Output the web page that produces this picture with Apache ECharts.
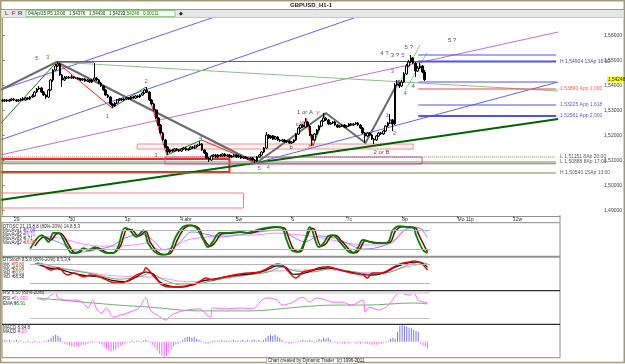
<!DOCTYPE html>
<html><head><meta charset="utf-8">
<script src="https://cdn.jsdelivr.net/npm/echarts@6/dist/echarts.min.js"></script>
<style>html,body{margin:0;padding:0;background:#fff}#c{width:625px;height:364px}</style>
</head><body><div id="c"></div><script>
// ---------------- DATA ----------------
const titleText = 'GBPUSD_H1-1';
const toolbarText = '04/Ap/15 P5 13:00   1,54376   1,54430   1,54232';
const toolbarText2 = '1,54248   0,00111';
const lastPriceLabel = '1,54248';
const priceTicks = [1.49, 1.50, 1.51, 1.52, 1.53, 1.54, 1.55, 1.56];
const dateTicks = [5, 29, 53, 77, 101, 125, 149, 173, 197, 221];
const dateLabels = ['29', '30', '1p', '4 abr', '5w', '6', '7c', '8p', 'Mo 11p', '12w'];

const candleOpen = [
1.5343,1.5339,1.5343,1.5339,1.5343,1.5347,1.5343,1.5339,1.5343,1.5347,
1.5343,1.5351,1.5347,1.5355,1.5359,1.5375,1.5387,1.5391,1.5375,1.5363,
1.5355,1.5383,1.5423,1.5463,1.5479,1.5487,1.5443,1.5423,1.5431,1.5435,
1.5431,1.5435,1.5431,1.5431,1.5427,1.5423,1.5427,1.5419,1.5423,1.5415,
1.5423,1.5431,1.5423,1.5411,1.5399,1.5383,1.5363,1.5355,1.5327,1.5319,
1.5331,1.5343,1.5347,1.5343,1.5347,1.5351,1.5347,1.5355,1.5351,1.5359,
1.5355,1.5363,1.5371,1.5383,1.5375,1.5343,1.5327,1.5303,1.5271,1.5243,
1.5211,1.5183,1.5155,1.5135,1.5143,1.5139,1.5147,1.5143,1.5139,1.5147,
1.5151,1.5143,1.5147,1.5155,1.5151,1.5159,1.5163,1.5167,1.5143,1.5131,
1.5111,1.5103,1.5119,1.5123,1.5115,1.5123,1.5119,1.5127,1.5119,1.5123,
1.5115,1.5119,1.5123,1.5115,1.5119,1.5111,1.5115,1.5111,1.5107,1.5111,
1.5103,1.5099,1.5115,1.5123,1.5135,1.5151,1.5203,1.5191,1.5199,1.5187,
1.5195,1.5183,1.5179,1.5183,1.5175,1.5179,1.5171,1.5175,1.5183,1.5207,
1.5231,1.5243,1.5235,1.5255,1.5239,1.5203,1.5183,1.5207,1.5223,1.5239,
1.5259,1.5271,1.5263,1.5247,1.5251,1.5255,1.5243,1.5235,1.5239,1.5243,
1.5235,1.5239,1.5247,1.5243,1.5247,1.5251,1.5243,1.5231,1.5211,1.5199,
1.5211,1.5203,1.5187,1.5183,1.5199,1.5211,1.5207,1.5219,1.5239,1.5251,
1.5263,1.5247,1.5403,1.5407,1.5399,1.5415,1.5447,1.5479,1.5495,1.5511,
1.5491,1.5459,1.5471,1.5479,1.5455];
const candleClose = [
1.5339,1.5343,1.5339,1.5343,1.5347,1.5343,1.5339,1.5343,1.5347,1.5343,
1.5351,1.5347,1.5355,1.5359,1.5375,1.5387,1.5391,1.5375,1.5363,1.5355,
1.5383,1.5423,1.5463,1.5479,1.5487,1.5443,1.5423,1.5431,1.5435,1.5431,
1.5435,1.5431,1.5431,1.5427,1.5423,1.5427,1.5419,1.5423,1.5415,1.5423,
1.5431,1.5423,1.5411,1.5399,1.5383,1.5363,1.5355,1.5327,1.5319,1.5331,
1.5343,1.5347,1.5343,1.5347,1.5351,1.5347,1.5355,1.5351,1.5359,1.5355,
1.5363,1.5371,1.5383,1.5375,1.5343,1.5327,1.5303,1.5271,1.5243,1.5211,
1.5183,1.5155,1.5135,1.5143,1.5139,1.5147,1.5143,1.5139,1.5147,1.5151,
1.5143,1.5147,1.5155,1.5151,1.5159,1.5163,1.5167,1.5143,1.5131,1.5111,
1.5103,1.5119,1.5123,1.5115,1.5123,1.5119,1.5127,1.5119,1.5123,1.5115,
1.5119,1.5123,1.5115,1.5119,1.5111,1.5115,1.5111,1.5107,1.5111,1.5103,
1.5099,1.5115,1.5123,1.5135,1.5151,1.5203,1.5191,1.5199,1.5187,1.5195,
1.5183,1.5179,1.5183,1.5175,1.5179,1.5171,1.5175,1.5183,1.5207,1.5231,
1.5243,1.5235,1.5255,1.5239,1.5203,1.5183,1.5207,1.5223,1.5239,1.5259,
1.5271,1.5263,1.5247,1.5251,1.5255,1.5243,1.5235,1.5239,1.5243,1.5235,
1.5239,1.5247,1.5243,1.5247,1.5251,1.5243,1.5231,1.5211,1.5199,1.5211,
1.5203,1.5187,1.5183,1.5199,1.5211,1.5207,1.5219,1.5239,1.5251,1.5263,
1.5247,1.5403,1.5407,1.5399,1.5415,1.5447,1.5479,1.5495,1.5511,1.5491,
1.5459,1.5471,1.5479,1.5455,1.5425];
const candleLow = [
1.5335,1.5335,1.5335,1.5335,1.5339,1.5339,1.5335,1.5335,1.5339,1.5339,
1.5339,1.5343,1.5343,1.5351,1.5355,1.5371,1.5383,1.5371,1.5359,1.5347,
1.5351,1.5379,1.5415,1.5459,1.5475,1.5439,1.5395,1.5419,1.5427,1.5427,
1.5427,1.5427,1.5427,1.5423,1.5419,1.5419,1.5415,1.5415,1.5411,1.5411,
1.5419,1.5419,1.5407,1.5395,1.5379,1.5359,1.5351,1.5323,1.5311,1.5315,
1.5327,1.5339,1.5339,1.5339,1.5343,1.5343,1.5343,1.5347,1.5347,1.5351,
1.5351,1.5359,1.5367,1.5371,1.5339,1.5323,1.5299,1.5267,1.5239,1.5207,
1.5179,1.5151,1.5123,1.5131,1.5135,1.5135,1.5139,1.5135,1.5135,1.5143,
1.5139,1.5139,1.5143,1.5147,1.5147,1.5155,1.5159,1.5139,1.5127,1.5107,
1.5095,1.5099,1.5115,1.5111,1.5111,1.5115,1.5115,1.5115,1.5115,1.5111,
1.5111,1.5115,1.5111,1.5111,1.5107,1.5107,1.5107,1.5103,1.5103,1.5099,
1.5091,1.5095,1.5111,1.5119,1.5131,1.5147,1.5187,1.5187,1.5183,1.5183,
1.5179,1.5175,1.5175,1.5171,1.5171,1.5167,1.5167,1.5171,1.5179,1.5203,
1.5227,1.5231,1.5231,1.5235,1.5199,1.5159,1.5179,1.5203,1.5219,1.5235,
1.5255,1.5259,1.5243,1.5243,1.5247,1.5239,1.5231,1.5231,1.5235,1.5231,
1.5231,1.5235,1.5239,1.5239,1.5243,1.5239,1.5227,1.5207,1.5171,1.5195,
1.5199,1.5183,1.5167,1.5179,1.5195,1.5203,1.5203,1.5215,1.5235,1.5247,
1.5219,1.5243,1.5399,1.5391,1.5395,1.5411,1.5443,1.5475,1.5491,1.5487,
1.5435,1.5455,1.5467,1.5451,1.5419];
const candleHigh = [
1.5347,1.5347,1.5347,1.5347,1.5351,1.5351,1.5347,1.5347,1.5351,1.5355,
1.5355,1.5355,1.5359,1.5367,1.5379,1.5391,1.5399,1.5395,1.5379,1.5367,
1.5387,1.5427,1.5467,1.5487,1.5495,1.5491,1.5447,1.5439,1.5439,1.5439,
1.5443,1.5439,1.5435,1.5435,1.5431,1.5431,1.5431,1.5427,1.5427,1.5427,
1.5491,1.5435,1.5427,1.5415,1.5403,1.5387,1.5367,1.5359,1.5331,1.5335,
1.5347,1.5351,1.5351,1.5351,1.5355,1.5355,1.5359,1.5359,1.5363,1.5363,
1.5367,1.5375,1.5387,1.5395,1.5379,1.5347,1.5331,1.5307,1.5275,1.5247,
1.5215,1.5187,1.5159,1.5147,1.5147,1.5151,1.5151,1.5147,1.5151,1.5155,
1.5155,1.5151,1.5159,1.5159,1.5163,1.5167,1.5179,1.5171,1.5147,1.5135,
1.5115,1.5123,1.5127,1.5127,1.5127,1.5127,1.5131,1.5131,1.5127,1.5127,
1.5123,1.5127,1.5127,1.5123,1.5123,1.5119,1.5119,1.5115,1.5115,1.5115,
1.5107,1.5119,1.5127,1.5139,1.5155,1.5215,1.5207,1.5203,1.5203,1.5199,
1.5199,1.5187,1.5187,1.5187,1.5183,1.5183,1.5179,1.5187,1.5211,1.5235,
1.5247,1.5247,1.5271,1.5259,1.5243,1.5207,1.5211,1.5227,1.5243,1.5263,
1.5291,1.5275,1.5267,1.5255,1.5259,1.5259,1.5247,1.5243,1.5247,1.5247,
1.5243,1.5251,1.5251,1.5251,1.5255,1.5255,1.5247,1.5235,1.5215,1.5215,
1.5215,1.5207,1.5191,1.5203,1.5215,1.5215,1.5223,1.5243,1.5255,1.5287,
1.5267,1.5411,1.5423,1.5415,1.5423,1.5455,1.5487,1.5503,1.5523,1.5515,
1.5495,1.5479,1.5491,1.5483,1.5463];

// Drawing tools (bar index, price)
const lineBlueA = [[-1, 1.5383], [95, 1.5683]];
const lineBlueB = [[-1, 1.5183], [155.6, 1.5679]];
const lineBlueC = [[107.1, 1.5083], [242.2, 1.5415]];
const linePurple = [[-1, 1.5123], [242.2, 1.5615]];
const lineOliveGreen = [[23.6, 1.5495], [242.2, 1.5379]];
const lineGreenLeft = [[-1, 1.5247], [23.6, 1.5495]];
const lineDarkGreen = [[-1, 1.4943], [242.2, 1.5267]];
const lineBlueHigh = [[23.6, 1.5497], [241.3, 1.5497]];
const lineGrayTop = [[23.6, 1.5493], [40, 1.5493]];
const waveZigzag = [[-1, 1.5383], [23.6, 1.5495], [110.6, 1.5091], [140.9, 1.5291], [158.2, 1.5171], [172.9, 1.5423]];
const waveRed = [[[23.6, 1.5495], [47.8, 1.5311]], [[62.6, 1.5395], [71.6, 1.5123]], [[86.8, 1.5183], [110.6, 1.5091]], [[132.3, 1.5271], [135.3, 1.5159]]];
const waveGreen = [[[47.8, 1.5311], [62.6, 1.5395]], [[71.6, 1.5123], [86.8, 1.5183]], [[135.3, 1.5159], [140.9, 1.5291]]];
const channelLightGreen = [[[170.8, 1.5371], [182, 1.5563]], [[175.5, 1.5383], [185, 1.5531]]];
const projStart = 181.2, projEnd = 241.3, fullStart = -1;
const projBlueThin = [1.5523, 1.5415];
const projLevels = [1.5497, 1.5387, 1.5323, 1.5279];
const projLabels = ['H 1,54904 13Ap 16:00', '1,53890 App 1,000', '1,53225 App 1,618', '1,52561 App 2,000'];
const oliveLevels = [1.5115, 1.5095, 1.5088, 1.5051];
const oliveLabels = ['L 1,51151 8Ap 20:00', 'L 1,50888 8Ap 17:00', '', 'H 1,50540 15Ap 13:00'];
const boxPink = [[58.7, 1.5167], [179, 1.5147]];
const boxRed = [[-1, 1.5107], [98.9, 1.5055]];
const boxMagenta = [[70.8, 1.5115], [182.9, 1.5087]];
const boxLightRed = [[-1, 1.4971], [105, 1.4911]];
const labelsBlue = [[15, 1.5511, '5'], [45.7, 1.5279, '1'], [62.6, 1.5419, '2'], [66.9, 1.5123, '3'], [86.4, 1.5191, '4'], [111.9, 1.5071, '5'], [167.7, 1.5283, '1'], [170.8, 1.5211, '2'], [170, 1.5459, '3'], [175.5, 1.5371, '4'], [174.5, 1.5523, '5']];
const labelsGreen = [[19.7, 1.5515, '3'], [115.8, 1.5075, '4']];
const labelsBlack = [[131.8, 1.5295, '1 or A'], [165.2, 1.5135, '2 or B'], [125.8, 1.5155, 'b'], [128.5, 1.5247, 'c'], [166.5, 1.5531, '4 ?'], [171, 1.5523, '3 ?'], [177, 1.5555, '5 ?'], [196, 1.5583, '5 ?'], [179, 1.5399, '4']];
const labelsRed = [[137.4, 1.5289, 'Y'], [131, 1.5249, 'W'], [134, 1.5159, 'X']];

// Indicators: [bar index, value]
const stoch1Fast = [[12,22],[17,66],[20,44],[22,73],[24,73],[28,27],[30,8],[32,8],[35,24],[37,18],[40,27],[42,18],[45,8],[48,8],[50,27],[53,89],[55,82],[58,60],[61,82],[63,40],[66,11],[69,2],[72,8],[75,60],[78,92],[81,98],[84,89],[87,50],[89,27],[91,44],[94,73],[98,73],[103,76],[106,73],[110,82],[114,89],[118,92],[121,89],[123,50],[125,18],[128,11],[131,50],[133,92],[134,82],[137,27],[139,40],[141,63],[143,66],[146,44],[150,11],[152,8],[154,27],[156,50],[159,44],[162,40],[164,40],[167,44],[169,82],[172,95],[175,92],[178,89],[179,66],[182,18],[184,8]];
const stoch1Slow = [[14,30],[18,60],[21,50],[23,68],[25,72],[29,30],[31,10],[33,9],[35,20],[38,18],[41,25],[43,18],[46,9],[48,9],[51,30],[54,85],[56,83],[59,62],[62,78],[64,42],[67,12],[70,3],[73,9],[76,55],[79,90],[82,97],[85,88],[87,55],[90,30],[92,42],[95,70],[99,72],[103,75],[107,72],[111,80],[115,88],[119,91],[122,88],[124,55],[126,20],[129,12],[131,45],[134,88],[135,84],[138,30],[140,38],[142,60],[144,65],[147,45],[151,13],[153,9],[155,25],[157,48],[159,44],[162,41],[165,40],[168,44],[170,78],[173,93],[176,93],[179,88],[180,70],[183,25],[184,12]];
const stoch1Avg1 = [[17,66],[25,40],[34,11],[40,18],[47,30],[53,56],[60,69],[65,50],[70,18],[76,37],[82,76],[88,69],[94,60],[102,66],[111,76],[120,82],[125,63],[131,44],[137,63],[144,56],[150,37],[156,21],[163,27],[170,50],[175,85],[180,89],[184,56]];
const stoch1Avg2 = [[16,63],[25,56],[37,34],[47,30],[57,34],[63,40],[68,18],[74,27],[80,50],[88,59],[97,66],[108,66],[118,72],[129,66],[137,59],[147,43],[157,34],[166,34],[175,88],[179,91],[184,75]];
const stoch2K = [[14,80],[17,77],[21,61],[24,68],[28,46],[31,52],[35,40],[38,46],[42,40],[47,24],[50,21],[54,27],[58,46],[61,55],[62,68],[65,46],[67,30],[69,15],[72,8],[77,8],[81,15],[85,24],[88,36],[91,30],[94,36],[100,46],[106,52],[111,55],[114,64],[119,80],[121,77],[124,55],[127,36],[130,55],[134,61],[137,68],[141,71],[146,61],[151,52],[156,46],[158,36],[160,52],[164,52],[167,61],[172,80],[176,86],[178,89],[181,83],[184,61]];
const stoch2D = [[15,80],[20,68],[25,63],[30,52],[36,44],[42,40],[48,28],[53,25],[58,40],[62,55],[65,50],[68,25],[72,12],[77,8],[82,14],[87,28],[92,34],[100,44],[108,50],[114,60],[119,74],[122,72],[126,48],[130,50],[136,63],[141,68],[148,58],[155,48],[160,45],[165,52],[170,70],[176,84],[180,86],[184,70]];
const stoch2Slow = [[15,85],[22,72],[30,60],[40,48],[50,33],[58,38],[64,50],[70,30],[78,14],[86,20],[95,35],[105,45],[115,55],[121,70],[127,58],[134,55],[142,65],[150,58],[160,48],[168,55],[175,75],[181,85],[184,80]];
const stoch2Avg = [[15,75],[30,62],[50,42],[65,40],[80,25],[100,38],[120,60],[140,62],[160,52],[180,78],[184,80]];
const rsiLine = [[15,68],[18,63],[21,75],[23,80],[24,68],[28,63],[32,63],[35,56],[37,44],[39,63],[41,39],[43,32],[45,44],[48,22],[51,27],[55,34],[59,44],[62,68],[64,39],[67,27],[71,15],[72,22],[75,32],[80,39],[85,42],[90,22],[91,44],[97,42],[103,44],[108,42],[114,68],[119,63],[121,51],[125,56],[130,70],[133,58],[136,68],[140,63],[143,58],[147,58],[151,51],[156,63],[157,34],[159,46],[163,39],[167,51],[172,80],[176,75],[178,80],[180,63],[184,56]];
const rsiEma = [[15,68],[50,51],[64,46],[85,37],[107,37],[128,46],[143,51],[157,51],[178,56],[184,54]];
const macdHistPips = [
1,2,1,2,1,1,2,1,1,
-1,-1,1,-1,-1,1,-1,-1,-1,1,1,
2,4,6,7,6,4,
-1,-2,-3,-4,-5,-5,-4,-5,-4,-3,-3,-2,-1,
1,-1,-1,-2,
-3,-5,-7,-9,-10,-9,-8,-6,-4,-3,
-2,-1,-1,1,-1,1,1,-1,1,2,1,
-1,-3,-6,-9,-12,-14,-15,-14,-11,-8,
-5,-3,-2,-1,
2,4,5,5,4,5,3,2,1,
-1,-2,-2,-1,1,1,1,1,2,1,1,1,1,2,1,1,1,2,1,2,1,2,2,1,2,1,2,
4,6,7,6,7,5,4,
2,-1,-1,-2,-2,-1,-1,1,
1,2,1,1,2,1,
-1,1,3,2,
4,3,4,2,
-1,-1,-2,-1,-2,-2,-1,-2,-1,-1,-2,-1,-2,-1,-2,
-2,-3,-3,-2,-3,-2,-2,-1,-1,
1,3,4,3,
10,16,17,16,15,14,14,12,11,10,
-2,-4,-5,-7];

// ---------------- CHART ----------------
const FONT = '"Liberation Sans", "DejaVu Sans", sans-serif';
const chart = echarts.init(document.getElementById('c'));
const candles = candleOpen.map((o, i) => [i, o, candleClose[i], candleLow[i], candleHigh[i]]);

function ln(data, color, width, extra) {
  return Object.assign({type: 'line', xAxisIndex: 0, yAxisIndex: 0, data: data, symbol: 'none', silent: true,
    lineStyle: {color: color, width: width}, z: 3, clip: true}, extra || {});
}
function ind(data, gi, color, width) {
  return {type: 'line', xAxisIndex: gi, yAxisIndex: gi, data: data, symbol: 'none', silent: true, smooth: 0.35,
    lineStyle: {color: color, width: width}, z: 4};
}
function refLine(gi, vals, color, width) {
  return {type: 'line', xAxisIndex: gi, yAxisIndex: gi, data: [], silent: true,
    markLine: {silent: true, symbol: 'none', label: {show: false}, lineStyle: {color: color, width: width, type: 'solid'},
      data: vals.map(v => [{coord: [12, v]}, {coord: [185, v]}])}};
}
function txt(data, color, pos) {
  return {type: 'scatter', xAxisIndex: 0, yAxisIndex: 0, symbolSize: 0, silent: true, z: 6,
    data: data.map(d => ({value: [d[0], d[1]], name: d[2]})),
    label: {show: true, position: pos || 'inside', formatter: p => p.name, color: color, fontSize: 6, fontFamily: FONT}};
}
function box(b, border, fill, width) {
  return {type: 'line', xAxisIndex: 0, yAxisIndex: 0, data: [], silent: true,
    markArea: {silent: true, itemStyle: {color: fill, borderColor: border, borderWidth: width},
      data: [[{coord: b[0]}, {coord: b[1]}]]}};
}

const series = [];
series.push(box(boxLightRed, '#f08080', 'rgba(255,255,255,0)', 1));
series.push(box(boxRed, '#ff2020', 'rgba(255,255,255,0)', 2));
series.push(box(boxPink, '#f09090', 'rgba(255,220,220,0.35)', 1));
series.push(box(boxMagenta, '#e040e0', 'rgba(255,255,255,0)', 1));
series.push(ln(lineBlueA, '#6464f0', 1));
series.push(ln(lineBlueB, '#6464f0', 1));
series.push(ln(lineBlueC, '#6464f0', 1));
series.push(ln(linePurple, '#c070d0', 1));
series.push(ln(lineOliveGreen, '#8cc08c', 1));
series.push(ln(lineGreenLeft, '#108010', 1));
series.push(ln(lineDarkGreen, '#006400', 2));
series.push(ln(lineBlueHigh, '#5050f0', 1));
series.push(ln(lineGrayTop, '#909090', 1));
series.push(ln(waveZigzag, '#6a6a6a', 2));
waveRed.forEach(d => series.push(ln(d, '#ff2020', 1)));
waveGreen.forEach(d => series.push(ln(d, '#109010', 1)));
channelLightGreen.forEach(d => series.push(ln(d, '#70e070', 1)));
projBlueThin.forEach(v => series.push(ln([[projStart, v], [projEnd, v]], '#5050f0', 1)));
projLevels.forEach((v, k) => series.push(ln([[projStart, v], [projEnd, v]], k === 1 ? '#ff4040' : '#5050f0', (k === 0 || k === 3) ? 2 : 1)));
oliveLevels.forEach((v, k) => series.push(ln([[fullStart, v], [projEnd, v]], '#8a8250', k === 0 ? 1 : 1.2, k === 0 ? {lineStyle: {color: '#8a8250', width: 1, type: 'dotted'}} : {})));
series.push({type: 'candlestick', xAxisIndex: 0, yAxisIndex: 0, data: candles, encode: {x: 0, y: [1, 2, 3, 4]},
  barWidth: 2.1, silent: true, z: 5,
  itemStyle: {color: '#ffffff', color0: '#000000', borderColor: '#000000', borderColor0: '#000000', borderWidth: 1}});
series.push(txt(labelsBlue, '#3030e0'));
series.push(txt(labelsGreen, '#108010'));
series.push(txt(labelsBlack, '#202020'));
series.push(txt(labelsRed, '#e00000'));
// right side labels
const rightLab = projLevels.map((v, k) => [242.6, v, projLabels[k]]);
series.push({type: 'scatter', xAxisIndex: 0, yAxisIndex: 0, symbolSize: 0, silent: true, z: 6,
  data: rightLab.map((d, k) => ({value: [d[0], d[1]], name: d[2], label: {color: k === 1 ? '#ff3030' : (k === 0 ? '#202060' : '#3030d0')}})),
  label: {show: true, position: 'right', distance: 1, formatter: p => p.name, fontSize: 5, fontFamily: FONT}});
series.push({type: 'scatter', xAxisIndex: 0, yAxisIndex: 0, symbolSize: 0, silent: true, z: 6,
  data: oliveLevels.map((v, k) => ({value: [242.6, v], name: oliveLabels[k]})),
  label: {show: true, position: 'right', distance: 1, formatter: p => p.name, fontSize: 5, color: '#303030', fontFamily: FONT}});

// indicators
series.push(refLine(2, [80, 20], '#b4b4b4', 1));
series.push(ind(stoch1Avg2, 2, '#ff88ff', 1));
series.push(ind(stoch1Avg1, 2, '#8888ff', 1));
series.push(ind(stoch1Slow, 2, '#800000', 1.5));
series.push(ind(stoch1Fast, 2, '#008000', 1.8));
series.push(refLine(3, [80, 20], '#b4b4b4', 1));
series.push(ind(stoch2Avg, 3, '#ff99ff', 1));
series.push(ind(stoch2Slow, 3, '#60b060', 1));
series.push(ind(stoch2D, 3, '#000000', 1.2));
series.push(ind(stoch2K, 3, '#ff0000', 1.5));
series.push(refLine(4, [80], '#e0e0e0', 2));
series.push(refLine(4, [20], '#c0c0c0', 1));
series.push(ind(rsiEma, 4, '#70b070', 1));
series.push(ind(rsiLine, 4, '#ff66ff', 1));
series.push({type: 'bar', xAxisIndex: 5, yAxisIndex: 5, silent: true, barWidth: 1,
  data: macdHistPips.map((v, i) => [i, v]),
  itemStyle: {color: p => p.value[1] >= 0 ? '#7878f0' : '#f070f0'}});

const G = {left: 0.19, width: 559.81};
const option = {
  animation: false,
  backgroundColor: '#ffffff',
  grid: [
    {left: 0.19, top: 18, width: 605.81, height: 197},
    {left: G.left, top: 215.5, width: G.width, height: 0.5},
    {left: G.left, top: 224.5, width: G.width, height: 31},
    {left: G.left, top: 257.5, width: G.width, height: 32.2},
    {left: G.left, top: 290.7, width: G.width, height: 33.6},
    {left: G.left, top: 324.3, width: G.width, height: 33.4}
  ],
  xAxis: [
    {type: 'value', gridIndex: 0, min: -1, max: 261.26, show: false},
    {type: 'value', gridIndex: 1, min: -1, max: 241.34, splitLine: {show: false},
      axisLine: {show: true, lineStyle: {color: '#909090', width: 1}},
      axisTick: {show: true, customValues: dateTicks, length: 2, lineStyle: {color: '#606060'}},
      axisLabel: {show: true, customValues: dateTicks, formatter: v => dateLabels[dateTicks.indexOf(v)] || '',
        fontSize: 5, color: '#303030', fontFamily: FONT, margin: 1, align: 'left'}},
    {type: 'value', gridIndex: 2, min: -1, max: 241.34, show: false},
    {type: 'value', gridIndex: 3, min: -1, max: 241.34, show: false},
    {type: 'value', gridIndex: 4, min: -1, max: 241.34, show: false},
    {type: 'value', gridIndex: 5, min: -1, max: 241.34, show: false}
  ],
  yAxis: [
    {type: 'value', gridIndex: 0, position: 'right', min: 1.4883, max: 1.5671, splitLine: {show: false},
      axisLine: {show: true, lineStyle: {color: '#9c9470', width: 1}},
      axisTick: {show: true, customValues: priceTicks, length: 2, lineStyle: {color: '#707070'}},
      axisLabel: {show: true, customValues: priceTicks, formatter: v => v.toFixed(5).replace('.', ','),
        fontSize: 5, color: '#404040', fontFamily: FONT, margin: 2}},
    {type: 'value', gridIndex: 1, min: 0, max: 1, show: false},
    {type: 'value', gridIndex: 2, min: 0, max: 100, show: false},
    {type: 'value', gridIndex: 3, min: 0, max: 100, show: false},
    {type: 'value', gridIndex: 4, min: 4.9, max: 85.5, show: false},
    {type: 'value', gridIndex: 5, min: -16, max: 17.4, show: false}
  ],
  series: series
};
chart.setOption(option);

// ---------------- FRAME / TEXT (layout) ----------------
const yLast = chart.convertToPixel({yAxisIndex: 0}, candleClose[candleClose.length - 1]);
const T = (x, y, s, color, size, extra) => Object.assign({type: 'text', x: x, y: y, silent: true, z: 50,
  style: {text: s, fill: color, font: (size || 5) + 'px ' + FONT, textVerticalAlign: 'middle'}}, extra || {});
const L = (x1, y1, x2, y2, color, w) => ({type: 'line', silent: true, z: 40, shape: {x1: x1, y1: y1, x2: x2, y2: y2}, style: {stroke: color, lineWidth: w || 1}});
const graphics = [
  {type: 'rect', silent: true, z: 30, shape: {x: 0.75, y: 0.75, width: 623.5, height: 361.7}, style: {fill: 'none', stroke: '#a39b78', lineWidth: 1.5}},
  L(1, 9.5, 624, 9.5, '#a39b78', 1),
  {type: 'rect', silent: true, z: 30, shape: {x: 1.5, y: 10, width: 622, height: 7}, style: {fill: '#e6e6e6'}},
  L(1, 17.5, 624, 17.5, '#c8c8c8', 1),
  T(311, 5, titleText, '#202020', 6.5, {style: {text: titleText, fill: '#202020', font: 'bold 6px ' + FONT, textAlign: 'center', textVerticalAlign: 'middle'}}),
  T(5, 13.5, 'L', '#006060', 6),
  T(12, 13.5, 'F', '#c00000', 6),
  T(18, 13.5, 'R', '#0000c0', 6),
  {type: 'rect', silent: true, z: 31, shape: {x: 26, y: 10.5, width: 149, height: 6}, style: {fill: '#f6fff0', stroke: '#7fc070', lineWidth: 0.8}},
  T(28, 13.5, toolbarText, '#303030', 4.5, {z: 52}),
  T(123, 13.5, toolbarText2, '#208020', 4.5, {z: 52}),
  T(179, 13.5, '\u25C6', '#202020', 5),
  // indicator frames
  {type: 'rect', silent: true, z: 30, shape: {x: 2, y: 222.7, width: 558, height: 135}, style: {fill: 'none', stroke: '#8c8c8c', lineWidth: 1}},
  L(2, 256.8, 560, 256.8, '#909090', 2),
  L(2, 290.7, 560, 290.7, '#303030', 1.3),
  L(2, 324.3, 560, 324.3, '#303030', 1.3),
  L(560, 215, 560, 222.7, '#909090', 1),
  // indicator legends
  T(3, 226.3, 'DTOSC 21,13,8,8 (80%-20%) 14,8,5,3', '#303030', 4.5),
  T(3, 230.4, 'MovAvg1 =', '#303030', 4.5), T(24, 230.4, '52,09', '#4040ff', 4.5),
  T(3, 234.6, 'MovAvg2 =', '#303030', 4.5), T(24, 234.6, '76,31', '#ff40ff', 4.5),
  T(3, 238.7, 'MovAvg3 =', '#303030', 4.5), T(24, 238.7, '5,71', '#108010', 4.5),
  T(3, 242.8, 'MovAvg2 =', '#303030', 4.5), T(24, 242.8, '18,09', '#ff4040', 4.5),
  T(3, 260, 'DTStoch 8,5,8 (80%-20%) 8,5,3,4', '#303030', 4.5),
  T(3, 264.3, '%K =', '#303030', 4.5), T(13, 264.3, '79,80', '#ff2020', 4.5),
  T(3, 268.3, '%K =', '#303030', 4.5), T(13, 268.3, '83,06', '#108010', 4.5),
  T(3, 272.3, '%D =', '#303030', 4.5), T(13, 272.3, '80,61', '#ff2020', 4.5),
  T(3, 276.3, '%D =', '#303030', 4.5), T(13, 276.3, '68,58', '#303030', 4.5),
  T(3, 293, 'RSI 8,50 (80%-20%)', '#303030', 4.5),
  T(3, 298.3, 'RSI =', '#303030', 4.5), T(14, 298.3, '51,002', '#ff40ff', 4.5),
  T(3, 303.5, 'EMA =', '#303030', 4.5), T(14, 303.5, '55,91', '#108010', 4.5),
  T(3, 328, 'MACD 8,34,8', '#303030', 4.5),
  T(3, 332.2, 'MACD =', '#303030', 4.5), T(18, 332.2, '0,00', '#ff40ff', 4.5),
  // footer
  {type: 'rect', silent: true, z: 31, shape: {x: 266.5, y: 358.3, width: 91, height: 5}, style: {fill: '#ffffff', stroke: '#909090', lineWidth: 0.6}},
  T(268, 360.9, 'Chart created by Dynamic Trader  (c) 1996-2011', '#202020', 4.5, {z: 52}),
  // current price tag
  {type: 'rect', silent: true, z: 45, shape: {x: 607, y: yLast - 3, width: 16, height: 6}, style: {fill: '#ffff00'}},
  T(608, yLast, lastPriceLabel, '#202020', 4.8, {z: 52})
];
chart.setOption({graphic: graphics});
</script></body></html>
